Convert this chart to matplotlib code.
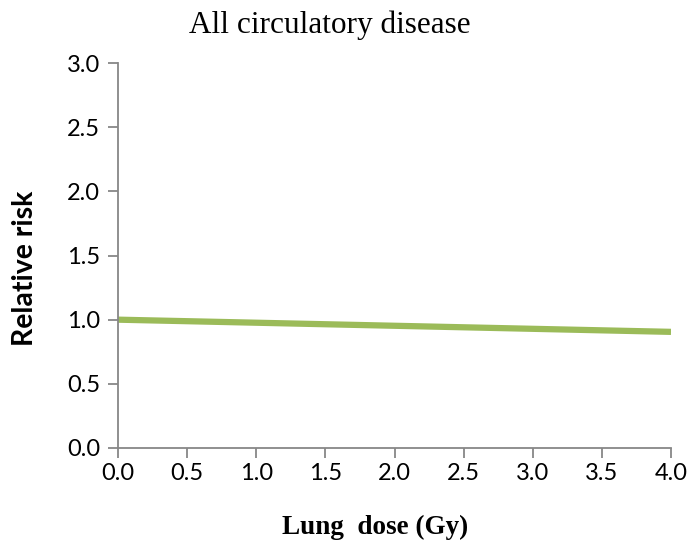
import matplotlib
matplotlib.use("Agg")
import matplotlib.pyplot as plt

dose = [0.0, 4.0]
rr = [1.0, 0.905]
xticks = [0.0, 0.5, 1.0, 1.5, 2.0, 2.5, 3.0, 3.5, 4.0]
yticks = [0.0, 0.5, 1.0, 1.5, 2.0, 2.5, 3.0]

fig = plt.figure(figsize=(6.93, 5.49), dpi=100)
ax = fig.add_axes([118/693, 1-448/549, (671-118)/693, (448-63)/549])
ax.plot(dose, rr, color="#9BBB59", lw=4.5, solid_capstyle="butt")
ax.set_xlim(0, 4.0)
ax.set_ylim(0, 3.0)
ax.set_xticks(xticks)
ax.set_yticks(yticks)
ax.set_xticklabels([f"{v:.1f}" for v in xticks], family="Lato", fontsize=17)
ax.set_yticklabels([f"{v:.1f}" for v in yticks], family="Lato", fontsize=17)
for s in ["top", "right"]:
    ax.spines[s].set_visible(False)
for s in ["left", "bottom"]:
    ax.spines[s].set_color("#878787")
    ax.spines[s].set_linewidth(1.3)
ax.tick_params(axis="both", color="#878787", width=1.3, length=7)
ax.tick_params(axis="y", pad=6)
ax.tick_params(axis="x", pad=4)
fig.text(330/693, 1-25/549, "All circulatory disease", family="Liberation Serif",
         fontsize=22.5, ha="center", va="center")
fig.text(375/693, 1-527/549, "Lung  dose (Gy)", family="Liberation Serif",
         fontsize=19.5, fontweight="bold", ha="center", va="center")
fig.text(25/693, 1-268/549, "Relative risk", family="Lato",
         fontsize=20.5, fontweight="bold", ha="center", va="center", rotation=90)
fig.savefig("out.png", dpi=100)
